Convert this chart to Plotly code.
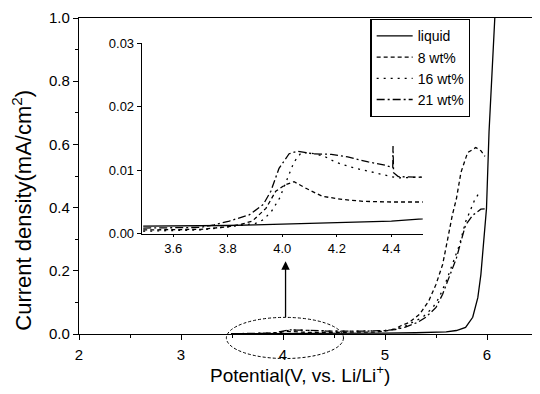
import plotly.graph_objects as go

# ---------------- data ----------------
liquid_x = [3.49, 3.6, 3.7, 3.8, 3.9, 4.0, 4.1, 4.2, 4.3, 4.4, 4.5, 4.8, 5.0, 5.3, 5.47,
            5.6, 5.7, 5.79, 5.86, 5.91, 5.94, 5.97, 5.995, 6.02, 6.05, 6.075, 6.1]
liquid_y = [0.0012, 0.0012, 0.0012, 0.0013, 0.0014, 0.0015, 0.0016, 0.0017, 0.0019, 0.0020, 0.0023,
            0.0026, 0.003, 0.004, 0.005, 0.007, 0.011, 0.021, 0.053, 0.115, 0.188, 0.293, 0.397,
            0.64, 0.85, 1.0, 1.15]

wt8_x = [3.49, 3.6, 3.7, 3.75, 3.8, 3.85, 3.89, 3.94, 3.976, 4.01, 4.043, 4.085, 4.146, 4.22,
         4.3, 4.4, 4.5, 4.7, 4.9, 5.0, 5.1, 5.16, 5.24, 5.34, 5.43, 5.5, 5.565, 5.61, 5.66,
         5.7, 5.745, 5.81, 5.89, 5.94, 5.98]
wt8_y = [0.0006, 0.0006, 0.0007, 0.0009, 0.0011, 0.0015, 0.002, 0.004, 0.0067, 0.0077, 0.0082,
         0.0072, 0.0059, 0.0054, 0.0051, 0.005, 0.005, 0.005, 0.006, 0.009, 0.016, 0.027, 0.037,
         0.063, 0.105, 0.157, 0.22, 0.293, 0.376, 0.428, 0.512, 0.574, 0.59, 0.58, 0.562]

wt16_x = [3.49, 3.6, 3.7, 3.8, 3.85, 3.9, 3.93, 3.96, 3.99, 4.02, 4.043, 4.07, 4.12, 4.158,
          4.194, 4.25, 4.3, 4.36, 4.42, 4.5, 4.7, 4.9, 5.0, 5.1, 5.2, 5.27, 5.37, 5.47, 5.53,
          5.6, 5.66, 5.73, 5.79, 5.84, 5.88, 5.93]
wt16_y = [0.0004, 0.0005, 0.0006, 0.0011, 0.0013, 0.0016, 0.0022, 0.0035, 0.0056, 0.009, 0.0113,
          0.0128, 0.0126, 0.0121, 0.0113, 0.0105, 0.010, 0.0093, 0.0088, 0.0089, 0.009, 0.010,
          0.011, 0.015, 0.025, 0.037, 0.053, 0.084, 0.115, 0.167, 0.22, 0.282, 0.355, 0.397,
          0.425, 0.45]

wt21_x = [3.49, 3.6, 3.7, 3.75, 3.806, 3.88, 3.93, 3.958, 3.988, 4.025, 4.055, 4.11, 4.18,
          4.24, 4.315, 4.376, 4.405, 4.406, 4.408, 4.425, 4.5, 4.6, 4.8, 5.0, 5.1, 5.2, 5.32,
          5.4, 5.5, 5.565, 5.63, 5.7, 5.745, 5.79, 5.86, 5.94, 6.0]
wt21_y = [0.0009, 0.0009, 0.001, 0.0014, 0.002, 0.003, 0.0046, 0.0067, 0.0103, 0.0126, 0.013,
          0.0126, 0.0125, 0.0121, 0.0113, 0.0108, 0.0104, 0.0138, 0.0096, 0.009, 0.0089, 0.009,
          0.009, 0.011, 0.014, 0.022, 0.037, 0.053, 0.084, 0.126, 0.178, 0.24, 0.293, 0.345,
          0.376, 0.395, 0.397]

series_names = ["liquid", "8 wt%", "16 wt%", "21 wt%"]
series_dash = ["solid", "4px,3px", "2px,5px", "8px,3px,2px,3px"]

main_xticks = [2, 3, 4, 5, 6]
main_yticks = [0.0, 0.2, 0.4, 0.6, 0.8, 1.0]
inset_xticks = [3.6, 3.8, 4.0, 4.2, 4.4]
inset_yticks = [0.00, 0.01, 0.02, 0.03]

# ---------------- figure ----------------
FONT = "Liberation Sans, Arial, sans-serif"
fig = go.Figure()

all_x = [liquid_x, wt8_x, wt16_x, wt21_x]
all_y = [liquid_y, wt8_y, wt16_y, wt21_y]

for name, dash, xs, ys in zip(series_names, series_dash, all_x, all_y):
    fig.add_trace(go.Scatter(x=xs, y=ys, mode="lines", name=name,
                             line=dict(color="black", width=1.3, dash=dash),
                             xaxis="x", yaxis="y", showlegend=True))
for name, dash, xs, ys in zip(series_names, series_dash, all_x, all_y):
    fig.add_trace(go.Scatter(x=xs, y=ys, mode="lines", name=name,
                             line=dict(color="black", width=1.3, dash=dash),
                             xaxis="x2", yaxis="y2", showlegend=False))

# the page body adds an 8 px margin, so the figure is drawn 8 px in from the window corner
OFF = 8
WIN_W, WIN_H = 540, 394
W, H = WIN_W - OFF, WIN_H - OFF
# plot area in window pixels: left 79, right 539, top 14, bottom 334
ML, MR, MT, MB = 79 - OFF, WIN_W - 539, 14 - OFF, WIN_H - 334
PW, PH = W - ML - MR, H - MT - MB
XR = [2, 6.5]
YR = [0, 1]


def paper_x(v):
    return (v - XR[0]) / (XR[1] - XR[0])


def paper_y(v):
    return (v - YR[0]) / (YR[1] - YR[0])


def win_x(px):
    return (px - OFF - ML) / PW


def win_y(py):
    return (H - MB - (py - OFF)) / PH


fig.update_layout(
    width=W, height=H,
    margin=dict(l=ML, r=MR, t=MT, b=MB),
    paper_bgcolor="white", plot_bgcolor="white",
    font=dict(family=FONT, color="black", size=14),
    showlegend=True,
    legend=dict(x=win_x(371), y=win_y(15), xanchor="left", yanchor="top",
                bordercolor="black", borderwidth=1.3, bgcolor="white",
                font=dict(size=14, family=FONT), tracegroupgap=0,
                itemwidth=36),
    xaxis=dict(range=XR, tickvals=main_xticks, ticktext=[str(v) for v in main_xticks],
               showline=True, linecolor="black", linewidth=1.3, mirror=True,
               ticks="outside", ticklen=5, tickwidth=1.2, tickcolor="black",
               minor=dict(dtick=0.5, ticks="outside", ticklen=3, tickcolor="black"),
               showgrid=False, zeroline=False, tickfont=dict(size=15),
               ticklabelstandoff=2, ticklabeloverflow="allow"),
    yaxis=dict(range=YR, tickvals=main_yticks, ticktext=[f"{v:.1f}" for v in main_yticks],
               showline=True, linecolor="black", linewidth=1.3, mirror=True,
               ticks="outside", ticklen=5, tickwidth=1.2, tickcolor="black",
               minor=dict(dtick=0.1, ticks="outside", ticklen=3, tickcolor="black"),
               showgrid=False, zeroline=False, tickfont=dict(size=15),
               ticklabeloverflow="allow"),
    xaxis2=dict(domain=[win_x(142), win_x(423.5)], anchor="y2", range=[3.485, 4.515],
                tickvals=inset_xticks, ticktext=[f"{v:.1f}" for v in inset_xticks],
                showline=True, linecolor="black", linewidth=1.3,
                ticks="outside", ticklen=2, tickcolor="black",
                showgrid=False, zeroline=False, tickfont=dict(size=13)),
    yaxis2=dict(domain=[win_y(232.5), win_y(39.5)], anchor="x2", range=[0, 0.03],
                tickvals=inset_yticks, ticktext=[f"{v:.2f}" for v in inset_yticks],
                showline=True, linecolor="black", linewidth=1.3,
                ticks="outside", ticklen=4, tickcolor="black",
                showgrid=False, zeroline=False, tickfont=dict(size=13)),
)

# dashed ellipse round the 3.5-4.5 V region (paper coords so it is not clipped)
fig.add_shape(type="circle", xref="paper", yref="paper",
              x0=paper_x(3.445), x1=paper_x(4.593), y0=paper_y(-0.0776), y1=paper_y(0.0526),
              line=dict(color="black", width=1, dash="3px,2px"))

# arrow pointing up to the inset
fig.add_annotation(x=4.025, y=0.23, ax=4.025, ay=0.0485, xref="x", yref="y",
                   axref="x", ayref="y", text="", showarrow=True,
                   arrowhead=2, arrowsize=1.3, arrowwidth=1.3, arrowcolor="black")

# axis titles
fig.add_annotation(text="Potential(V, vs. Li/Li<sup>+</sup>)", xref="paper", yref="paper",
                   x=win_x(300), y=win_y(375),
                   xanchor="center", yanchor="middle", showarrow=False,
                   font=dict(size=19, family=FONT))
fig.add_annotation(text="Current density(mA/cm<sup>2</sup>)", xref="paper", yref="paper",
                   x=win_x(21), y=win_y(209),
                   xanchor="center", yanchor="middle", showarrow=False, textangle=-90,
                   font=dict(size=22, family=FONT))

fig.write_html("out.html")
